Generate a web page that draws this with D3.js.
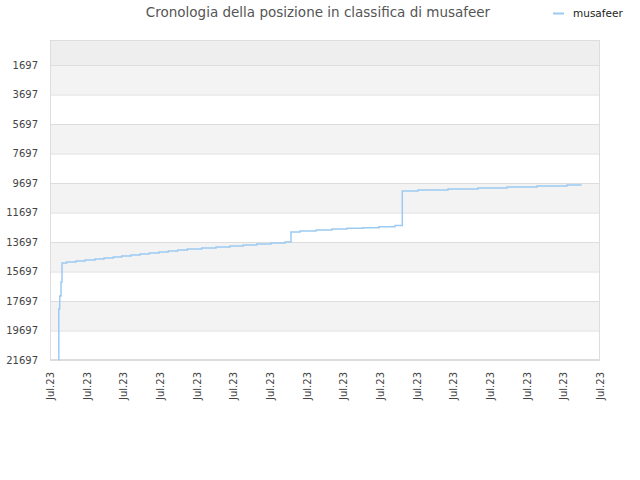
<!DOCTYPE html>
<html><head><meta charset="utf-8">
<script src="https://cdn.jsdelivr.net/npm/d3@7"></script>
<style>body{margin:0;background:#fff}svg{display:block;font-family:"DejaVu Sans",sans-serif}</style>
</head><body><svg id="c" width="640" height="480"></svg>
<script>
const title = "Cronologia della posizione in classifica di musafeer";
const seriesName = "musafeer";
const xTickLabels = ["Jul.23","Jul.23","Jul.23","Jul.23","Jul.23","Jul.23","Jul.23","Jul.23","Jul.23","Jul.23","Jul.23","Jul.23","Jul.23","Jul.23","Jul.23","Jul.23"];
const yTicks = [1697,3697,5697,7697,9697,11697,13697,15697,17697,19697,21697];
const days = [0.237,0.24,0.265,0.30,0.327,0.455,0.709,0.955,1.227,1.473,1.726,1.955,2.209,2.455,2.708,2.973,3.226,3.483,3.745,4.137,4.527,4.909,5.272,5.637,6.027,6.409,6.573,6.818,7.255,7.691,8.1,8.536,8.973,9.409,9.608,10.036,10.855,11.673,12.464,13.282,14.1,14.5];
const ranks = [21697,18239,17358,16409,15120,15052,14985,14917,14849,14781,14714,14646,14578,14510,14442,14375,14307,14239,14171,14103,14036,13968,13900,13832,13765,13697,13019,12951,12883,12815,12768,12727,12659,12578,10240,10171,10103,10035,9968,9900,9832,9832];

const svg = d3.select("#c");
const L=50,R=600,T=40,B=360;
const x = d3.scaleLinear().domain([0, xTickLabels.length-1]).range([L,R]);
const y = d3.scaleLinear().domain([1,21697]).range([T,B]);

// bands
svg.append("rect").attr("x",L).attr("y",T).attr("width",R-L).attr("height",y(yTicks[0])-T).attr("fill","#eeeeee");
for(let i=0;i<yTicks.length-1;i++){
  svg.append("rect").attr("x",L).attr("y",y(yTicks[i])).attr("width",R-L)
    .attr("height",y(yTicks[i+1])-y(yTicks[i])).attr("fill", i%2===0?"#f3f3f3":"#ffffff");
}
// grid
svg.append("g").selectAll("line").data(yTicks).join("line")
  .attr("x1",L).attr("x2",R).attr("y1",d=>y(d)+0.5).attr("y2",d=>y(d)+0.5)
  .attr("stroke","#dddddd");
svg.append("rect").attr("x",L+0.5).attr("y",T+0.5).attr("width",R-L-1).attr("height",B-T-1)
  .attr("fill","none").attr("stroke","#dddddd");

// y axis
const ya = svg.append("g").attr("transform",`translate(${L},0)`)
  .call(d3.axisLeft(y).tickValues(yTicks).tickSize(0).tickPadding(12).tickFormat(d3.format("d")));
ya.select(".domain").remove();
ya.selectAll("text").attr("fill","#444").style("font-size","10px").style("font-family","DejaVu Sans");

// x axis
const xa = svg.append("g").attr("transform",`translate(0,${B})`)
  .call(d3.axisBottom(x).tickValues(d3.range(xTickLabels.length)).tickSize(0).tickFormat(i=>xTickLabels[i]));
xa.select(".domain").remove();
xa.selectAll("text").attr("fill","#444").style("font-size","10px").style("font-family","DejaVu Sans")
  .attr("text-anchor","end").attr("transform","rotate(-90)").attr("dx","-12").attr("dy","0.35em").attr("x",0).attr("y",0);

// line
const data = days.map((d,i)=>({d, r:ranks[i]}));
svg.append("path").datum(data)
  .attr("d", d3.line().x(p=>x(p.d)).y(p=>y(p.r)).curve(d3.curveStepAfter))
  .attr("fill","none").attr("stroke","#9ccaf3").attr("stroke-width",1.5);

// title
svg.append("text").attr("x",318).attr("y",17).attr("text-anchor","middle")
  .style("font-size","13.5px").attr("fill","#555").text(title);
// legend
svg.append("line").attr("x1",553).attr("x2",564).attr("y1",13.5).attr("y2",13.5).attr("stroke","#9ccaf3").attr("stroke-width",2);
svg.append("text").attr("x",573).attr("y",17).style("font-size","10.5px").attr("fill","#222").text(seriesName);
</script></body></html>
